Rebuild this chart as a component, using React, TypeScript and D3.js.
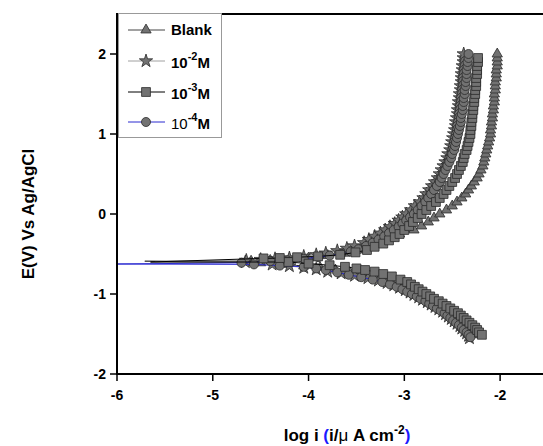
import React from "react";
import * as d3 from "d3";

// Tafel polarization curves, E vs log i
const W = 543;
const H = 446;

const xTicks = [-6, -5, -4, -3, -2];
const yTicks = [-2, -1, 0, 1, 2];

// [log i, E] pairs
const blankTip: [number, number][] = [[-5.71, -0.59]];
const blankAnodic: [number, number][] = [
  [-4.6, -0.59], [-4.4, -0.58], [-4.2, -0.57], [-4.0, -0.55], [-3.8, -0.52], [-3.62, -0.49],
  [-3.48, -0.45], [-3.36, -0.4], [-3.25, -0.35], [-3.14, -0.3], [-3.05, -0.25], [-2.9, -0.2],
  [-2.82, -0.15], [-2.75, -0.1], [-2.69, -0.05], [-2.63, 0.0], [-2.56, 0.05], [-2.5, 0.1],
  [-2.45, 0.15], [-2.4, 0.2], [-2.36, 0.25], [-2.33, 0.3], [-2.3, 0.35], [-2.27, 0.4],
  [-2.24, 0.45], [-2.22, 0.5], [-2.2, 0.55], [-2.18, 0.6], [-2.17, 0.65], [-2.16, 0.7],
  [-2.15, 0.75], [-2.14, 0.8], [-2.13, 0.85], [-2.12, 0.9], [-2.11, 0.95], [-2.1, 1.0],
  [-2.1, 1.05], [-2.09, 1.1], [-2.09, 1.15], [-2.08, 1.2], [-2.08, 1.25], [-2.07, 1.3],
  [-2.07, 1.35], [-2.06, 1.4], [-2.06, 1.45], [-2.06, 1.5], [-2.05, 1.55], [-2.05, 1.6],
  [-2.05, 1.65], [-2.04, 1.7], [-2.04, 1.75], [-2.04, 1.8], [-2.03, 1.85], [-2.03, 1.9],
  [-2.03, 1.95], [-2.03, 2.0],
];
const blankCathodic: [number, number][] = [
  [-4.5, -0.61], [-4.25, -0.63], [-4.05, -0.65], [-3.88, -0.67], [-3.72, -0.7], [-3.57, -0.73],
  [-3.43, -0.76], [-3.31, -0.79], [-3.21, -0.82], [-3.13, -0.85], [-3.06, -0.88], [-3.0, -0.91],
  [-2.94, -0.94], [-2.89, -0.97], [-2.84, -1.0], [-2.79, -1.03], [-2.75, -1.06], [-2.7, -1.09],
  [-2.66, -1.12], [-2.62, -1.15], [-2.58, -1.18], [-2.54, -1.21], [-2.51, -1.24], [-2.47, -1.27],
  [-2.44, -1.3], [-2.41, -1.33], [-2.38, -1.36], [-2.35, -1.39], [-2.33, -1.42], [-2.3, -1.45],
  [-2.28, -1.48], [-2.26, -1.51],
];

const m2Tip: [number, number][] = [[-5.6, -0.595]];
const m2Anodic: [number, number][] = [
  [-4.65, -0.58], [-4.5, -0.57], [-4.35, -0.56], [-4.2, -0.55], [-4.05, -0.53], [-3.92, -0.51],
  [-3.82, -0.49], [-3.7, -0.46], [-3.6, -0.43], [-3.52, -0.4], [-3.42, -0.36], [-3.37, -0.32],
  [-3.31, -0.28], [-3.25, -0.24], [-3.2, -0.2], [-3.15, -0.16], [-3.1, -0.12], [-3.06, -0.08],
  [-3.02, -0.04], [-2.98, 0.0], [-2.93, 0.05], [-2.89, 0.1], [-2.84, 0.15], [-2.8, 0.2],
  [-2.77, 0.25], [-2.74, 0.3], [-2.71, 0.35], [-2.68, 0.4], [-2.65, 0.45], [-2.63, 0.5],
  [-2.61, 0.55], [-2.59, 0.6], [-2.57, 0.65], [-2.55, 0.7], [-2.54, 0.75], [-2.52, 0.8],
  [-2.51, 0.85], [-2.5, 0.9], [-2.49, 0.95], [-2.48, 1.0], [-2.47, 1.05], [-2.46, 1.1],
  [-2.46, 1.15], [-2.45, 1.2], [-2.44, 1.25], [-2.44, 1.3], [-2.43, 1.35], [-2.43, 1.4],
  [-2.42, 1.45], [-2.42, 1.5], [-2.41, 1.55], [-2.41, 1.6], [-2.4, 1.65], [-2.4, 1.7],
  [-2.4, 1.75], [-2.39, 1.8], [-2.39, 1.85], [-2.38, 1.9], [-2.38, 1.95], [-2.38, 2.0],
];
const m2Cathodic: [number, number][] = [
  [-4.66, -0.6], [-4.38, -0.63], [-4.2, -0.65], [-4.05, -0.67], [-3.92, -0.69], [-3.8, -0.72],
  [-3.66, -0.74], [-3.52, -0.77], [-3.38, -0.8], [-3.27, -0.83], [-3.18, -0.86], [-3.11, -0.89],
  [-3.05, -0.92], [-2.99, -0.95], [-2.94, -0.98], [-2.9, -1.01], [-2.85, -1.04], [-2.81, -1.07],
  [-2.76, -1.1], [-2.72, -1.13], [-2.68, -1.16], [-2.64, -1.19], [-2.6, -1.22], [-2.57, -1.25],
  [-2.54, -1.28], [-2.51, -1.31], [-2.48, -1.34], [-2.45, -1.37], [-2.42, -1.4], [-2.4, -1.43],
  [-2.37, -1.46], [-2.35, -1.49], [-2.33, -1.52], [-2.32, -1.55],
];

const m3Tip: [number, number][] = [[-5.65, -0.6]];
const m3Anodic: [number, number][] = [
  [-4.47, -0.555], [-4.3, -0.55], [-4.12, -0.54], [-3.9, -0.53], [-3.67, -0.51], [-3.51, -0.48],
  [-3.39, -0.45], [-3.31, -0.41], [-3.22, -0.37], [-3.16, -0.33], [-3.1, -0.29], [-3.05, -0.25],
  [-3.0, -0.2], [-2.95, -0.15], [-2.91, -0.1], [-2.86, -0.05], [-2.82, 0.0], [-2.77, 0.05],
  [-2.72, 0.1], [-2.67, 0.15], [-2.63, 0.2], [-2.59, 0.25], [-2.56, 0.3], [-2.53, 0.35],
  [-2.5, 0.4], [-2.47, 0.45], [-2.45, 0.5], [-2.43, 0.55], [-2.41, 0.6], [-2.39, 0.65],
  [-2.38, 0.7], [-2.37, 0.75], [-2.35, 0.8], [-2.34, 0.85], [-2.33, 0.9], [-2.32, 0.95],
  [-2.31, 1.0], [-2.31, 1.05], [-2.3, 1.1], [-2.3, 1.15], [-2.29, 1.2], [-2.29, 1.25],
  [-2.28, 1.3], [-2.28, 1.35], [-2.27, 1.4], [-2.27, 1.45], [-2.26, 1.5], [-2.26, 1.55],
  [-2.25, 1.6], [-2.25, 1.65], [-2.25, 1.7], [-2.24, 1.75], [-2.24, 1.8], [-2.24, 1.85],
  [-2.23, 1.9], [-2.23, 1.95],
];
const m3Cathodic: [number, number][] = [
  [-4.21, -0.6], [-4.0, -0.62], [-3.78, -0.64], [-3.62, -0.66], [-3.5, -0.68], [-3.41, -0.7],
  [-3.31, -0.72], [-3.22, -0.75], [-3.13, -0.78], [-3.04, -0.82], [-2.97, -0.85], [-2.93, -0.88],
  [-2.89, -0.91], [-2.85, -0.94], [-2.81, -0.97], [-2.77, -1.0], [-2.73, -1.03], [-2.69, -1.06],
  [-2.64, -1.09], [-2.6, -1.12], [-2.56, -1.15], [-2.52, -1.18], [-2.48, -1.21], [-2.44, -1.24],
  [-2.41, -1.27], [-2.38, -1.3], [-2.35, -1.33], [-2.32, -1.36], [-2.29, -1.39], [-2.26, -1.42],
  [-2.24, -1.45], [-2.22, -1.48], [-2.19, -1.51],
];

const m4Tip: [number, number][] = [[-6.0, -0.625]];
const m4Anodic: [number, number][] = [
  [-4.7, -0.61], [-4.4, -0.59], [-4.22, -0.58], [-4.05, -0.56], [-3.9, -0.54], [-3.78, -0.52],
  [-3.66, -0.5], [-3.56, -0.47], [-3.48, -0.44], [-3.4, -0.4], [-3.33, -0.36], [-3.27, -0.32],
  [-3.21, -0.28], [-3.16, -0.24], [-3.11, -0.2], [-3.06, -0.16], [-3.02, -0.12], [-2.98, -0.08],
  [-2.94, -0.04], [-2.9, 0.0], [-2.86, 0.05], [-2.82, 0.1], [-2.78, 0.15], [-2.75, 0.2],
  [-2.72, 0.25], [-2.69, 0.3], [-2.66, 0.35], [-2.63, 0.4], [-2.61, 0.45], [-2.59, 0.5],
  [-2.57, 0.55], [-2.55, 0.6], [-2.53, 0.65], [-2.51, 0.7], [-2.5, 0.75], [-2.48, 0.8],
  [-2.47, 0.85], [-2.46, 0.9], [-2.45, 0.95], [-2.44, 1.0], [-2.43, 1.05], [-2.42, 1.1],
  [-2.41, 1.15], [-2.41, 1.2], [-2.4, 1.25], [-2.39, 1.3], [-2.39, 1.35], [-2.38, 1.4],
  [-2.38, 1.45], [-2.37, 1.5], [-2.37, 1.55], [-2.36, 1.6], [-2.36, 1.65], [-2.35, 1.7],
  [-2.35, 1.75], [-2.35, 1.8], [-2.34, 1.85], [-2.34, 1.9], [-2.33, 1.95], [-2.33, 2.0],
];
const m4Cathodic: [number, number][] = [
  [-4.57, -0.63], [-4.3, -0.645], [-4.05, -0.66], [-3.92, -0.68], [-3.82, -0.7], [-3.7, -0.73],
  [-3.58, -0.76], [-3.45, -0.79], [-3.33, -0.82], [-3.23, -0.85], [-3.15, -0.88], [-3.08, -0.91],
  [-3.02, -0.94], [-2.97, -0.97], [-2.92, -1.0], [-2.87, -1.03], [-2.83, -1.06], [-2.78, -1.09],
  [-2.74, -1.12], [-2.7, -1.15], [-2.66, -1.18], [-2.62, -1.21], [-2.58, -1.24], [-2.55, -1.27],
  [-2.52, -1.3], [-2.49, -1.33], [-2.46, -1.36], [-2.43, -1.39], [-2.4, -1.42], [-2.38, -1.45],
  [-2.35, -1.48], [-2.33, -1.51], [-2.31, -1.54],
];

const FONT = "'Liberation Sans', Arial, Helvetica, sans-serif";
const FILL = "#727272";
const EDGE = "#2b2b2b";

type Series = {
  key: string;
  sup: string;
  tip: [number, number][];
  anodic: [number, number][];
  cathodic: [number, number][];
  color: string;
  symbol: d3.SymbolType;
  size: number;
};

const series: Series[] = [
  { key: "blank", sup: "", tip: blankTip, anodic: blankAnodic, cathodic: blankCathodic, color: "#444444", symbol: d3.symbolTriangle, size: 46 },
  { key: "m2", sup: "-2", tip: m2Tip, anodic: m2Anodic, cathodic: m2Cathodic, color: "#a0a0a0", symbol: d3.symbolStar, size: 55 },
  { key: "m3", sup: "-3", tip: m3Tip, anodic: m3Anodic, cathodic: m3Cathodic, color: "#000000", symbol: d3.symbolSquare, size: 78 },
  { key: "m4", sup: "-4", tip: m4Tip, anodic: m4Anodic, cathodic: m4Cathodic, color: "#2a2ad0", symbol: d3.symbolCircle, size: 64 },
];
// squares drawn last, they sit on top in the picture
const drawOrder = ["blank", "m2", "m4", "m3"];

const x = d3.scaleLinear().domain([-6, -1.5]).range([117, 548]);
const y = d3.scaleLinear().domain([-2, 2.5]).range([374, 14]);

const line = d3
  .line<[number, number]>()
  .x((d) => x(d[0]))
  .y((d) => y(d[1]));

const App = () => {
  const ordered = drawOrder.map((k) => series.find((s) => s.key === k)!);
  const legendRows = [30, 61, 92, 122];

  return (
    <svg
      width={W}
      height={H}
      style={{ position: "absolute", left: 0, top: 0, background: "#fff" }}
      fontFamily={FONT}
    >
      <defs>
        <clipPath id="plotClip">
          <rect x={117} y={8} width={W - 117} height={374 - 8} />
        </clipPath>
      </defs>

      <g clipPath="url(#plotClip)">
        {ordered.map((s) => {
          const pts = [...s.cathodic].reverse().concat(s.tip, s.anodic);
          const sym = d3.symbol().type(s.symbol).size(s.size)()!;
          return (
            <g key={s.key}>
              <path d={line(pts)!} fill="none" stroke={s.color} strokeWidth={1} />
              {s.cathodic.concat(s.anodic).map((d, i) => (
                <path
                  key={i}
                  d={sym}
                  transform={`translate(${x(d[0])},${y(d[1])})`}
                  fill={FILL}
                  stroke={EDGE}
                  strokeWidth={0.8}
                />
              ))}
            </g>
          );
        })}
      </g>

      {/* frame */}
      <line x1={117} x2={W} y1={14} y2={14} stroke="#000" strokeWidth={2} />
      <line x1={117} x2={W} y1={374} y2={374} stroke="#000" strokeWidth={2} />
      <line x1={117} x2={117} y1={13} y2={375} stroke="#000" strokeWidth={2} />

      {yTicks.map((t) => (
        <g key={t}>
          <line x1={110} x2={117} y1={y(t)} y2={y(t)} stroke="#000" strokeWidth={1.5} />
          <text x={106} y={y(t) + 5} textAnchor="end" fontSize={14} fontWeight="bold">
            {t}
          </text>
        </g>
      ))}
      {xTicks.map((t) => (
        <g key={t}>
          <line x1={x(t)} x2={x(t)} y1={374} y2={381} stroke="#000" strokeWidth={1.5} />
          <text x={x(t)} y={400} textAnchor="middle" fontSize={14} fontWeight="bold">
            {t}
          </text>
        </g>
      ))}

      <text x={347} y={441} textAnchor="middle" fontSize={17} fontWeight="bold">
        <tspan>log i </tspan>
        <tspan fill="#1a1aff">(</tspan>
        <tspan>i/</tspan>
        <tspan fontWeight="normal">μ</tspan>
        <tspan> A cm</tspan>
        <tspan fontSize={12} dy={-7}>-2</tspan>
        <tspan fill="#1a1aff" dy={7}>)</tspan>
      </text>

      <text
        transform="translate(34,214) rotate(-90)"
        textAnchor="middle"
        fontSize={17}
        fontWeight="bold"
      >
        E(V) Vs Ag/AgCl
      </text>

      {/* legend */}
      <rect x={118.5} y={13.5} width={103} height={124} fill="#fff" stroke="#999" strokeWidth={1} />
      {series.map((s, i) => {
        const ry = legendRows[i];
        const sym = d3.symbol().type(s.symbol).size(s.size)()!;
        return (
          <g key={s.key}>
            <line x1={128} x2={165} y1={ry} y2={ry} stroke={s.color} strokeWidth={1} />
            <path d={sym} transform={`translate(146,${ry})`} fill={FILL} stroke={EDGE} strokeWidth={0.8} />
            {s.sup === "" ? (
              <text x={171} y={ry + 5} fontSize={15} fontWeight="bold">
                Blank
              </text>
            ) : (
              <text x={171} y={ry + 7} fontSize={15} fontWeight="bold">
                <tspan fontWeight={s.key === "m4" ? "normal" : "bold"}>10</tspan>
                <tspan fontSize={11} dy={-8}>{s.sup}</tspan>
                <tspan dy={8}>M</tspan>
              </text>
            )}
          </g>
        );
      })}
    </svg>
  );
};

export default App;
